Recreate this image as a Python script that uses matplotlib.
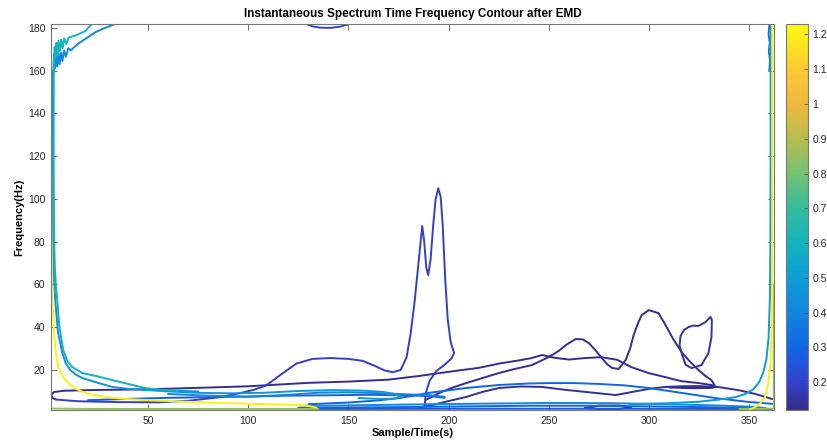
import numpy as np
import matplotlib
matplotlib.use("Agg")
import matplotlib.pyplot as plt
from matplotlib.colors import LinearSegmentedColormap, Normalize
from matplotlib.cm import ScalarMappable
from matplotlib.ticker import FormatStrFormatter

plt.rcParams['font.family'] = ['Liberation Sans', 'DejaVu Sans']

# rough parula look-alike (MATLAB default map)
parula_pts = [
    (0.00, (0.208, 0.166, 0.529)),
    (0.07, (0.200, 0.260, 0.800)),
    (0.16, (0.060, 0.400, 0.900)),
    (0.25, (0.070, 0.520, 0.870)),
    (0.34, (0.050, 0.620, 0.850)),
    (0.43, (0.080, 0.700, 0.750)),
    (0.52, (0.200, 0.740, 0.620)),
    (0.61, (0.450, 0.760, 0.450)),
    (0.70, (0.700, 0.740, 0.320)),
    (0.79, (0.930, 0.730, 0.240)),
    (0.88, (0.990, 0.780, 0.200)),
    (1.00, (0.976, 0.983, 0.054)),
]
parula = LinearSegmentedColormap.from_list("parula", parula_pts)
vmin, vmax = 0.12, 1.23
norm = Normalize(vmin, vmax)

# ---- contour lines (Sample, Hz) ----
left_olive_x = [1.1, 1.1, 1.2, 1.6, 20, 60, 100, 135]
left_olive_y = [181.8, 40, 4, 2.0, 1.8, 1.8, 1.8, 1.8]

left_yellow_x = [1.6, 1.6, 1.7, 1.9, 2.2, 3.0, 4.0, 5.2, 7.5, 10.2, 14.0, 18.7, 25.0,
                 32.1, 40.0, 48.5, 60.0, 73.4, 90.0, 110.0, 128.0, 134.0]
left_yellow_y = [181.8, 140, 100, 70, 52.7, 38, 28, 21.4, 17, 13.9, 11.2, 9.3, 8.0,
                 7.0, 6.4, 6.0, 5.5, 5.0, 4.5, 4.0, 3.6, 2.4]

left_teal_x = [3.0, 2.9, 3.0, 3.2, 3.5, 4.0, 4.7, 5.8, 7.7, 9.8, 12.2, 17.2, 25.0,
               32.1, 40.0, 48.5, 56.0, 65.0]
left_teal_y = [160, 130, 100, 80, 68, 60, 52.7, 40, 29.3, 24, 21.4, 18.6, 17.0,
               15.3, 13.5, 11.6, 10.8, 10.3]

left_cyan_x = [2.4, 2.3, 2.4, 2.6, 3.0, 3.7, 5.0, 7.2, 9.0, 11.2, 14.0, 17.2, 25.0,
               32.1, 40.0, 48.5, 60.0, 75.0]
left_cyan_y = [160, 130, 100, 80, 65, 52.7, 38, 28, 23, 20, 17.8, 16.3, 14.0,
               12.1, 11.2, 10.7, 10.4, 10.0]

top_teal_x = [3.0, 3.4, 3.8, 4.3, 4.8, 5.4, 6.0, 6.7, 7.4, 8.2, 9.2, 10.5, 14.0, 18.7, 22.0]
top_teal_y = [160, 171, 166, 173, 167, 174, 169, 174.5, 170.5, 175, 172.5, 175.5, 176.5,
              178.5, 181.8]

top_blue_x = [2.7, 3.1, 3.6, 4.2, 4.7, 5.3, 5.9, 6.6, 7.3, 8.1, 9.0, 10.2, 11.5, 15.0,
              19.0, 23.6, 28.0, 33.6]
top_blue_y = [158, 168, 161, 167, 162, 168, 163, 168.5, 164.5, 169.5, 166.5, 170.5,
              169.5, 172.5, 175.0, 177.9, 179.8, 181.8]

top_arc_x = [129, 132, 136, 141, 146, 150.5]
top_arc_y = [181.8, 180.7, 180.1, 180.0, 180.6, 181.8]

peak_x = [4.0, 15, 35, 55, 70, 85, 96, 103, 109, 116, 124, 132, 141, 150, 157, 163, 168,
          172, 176, 179, 181, 183, 184.5, 186, 186.8, 187.8, 188.8, 189.8, 191, 192.3,
          193.5, 194.8, 196, 197, 198.3, 199.5, 201, 202.7, 201.5, 198, 193.8, 190.5,
          188.5, 188]
peak_y = [6.2, 5.4, 5.0, 4.9, 5.6, 7.2, 9.2, 10.8, 12.8, 17.7, 23, 25.2, 25.6, 25.2,
          24.3, 22, 19.8, 19, 20, 26, 37, 52, 66, 80, 87.3, 80, 68, 64.4, 72, 88, 100,
          105, 101, 88, 62, 44, 33, 28, 25.5, 22.5, 19.5, 15, 9, 2.7]

long_dark_x = [4.0, 2.2, 1.8, 3.0, 8.0, 20, 35, 50, 65, 80, 100, 115, 130, 150, 170, 185,
               195, 205, 215, 225, 235, 241, 246.5, 253, 260, 268, 276, 284, 291, 300,
               308, 316, 324.6, 331, 333.5, 331, 322, 310]
long_dark_y = [6.2, 7.0, 8.4, 9.7, 10.3, 10.6, 10.8, 11.0, 11.4, 11.8, 12.4, 13.2, 14.0,
               14.6, 15.5, 17.2, 18.5, 19.8, 21.0, 23.0, 24.5, 25.5, 27.0, 25.7, 24.9,
               25.6, 26.0, 24.8, 21.4, 18.5, 16.7, 14.8, 13.9, 13.0, 12.2, 11.6, 11.6, 11.8]

m_x = [188.5, 195.3, 202, 208.7, 217, 225.1, 233, 241.5, 250, 255, 258.5, 263.4, 267,
       269.9, 273, 276.4, 279, 281.4, 284.8, 288.3, 290.5, 292.3, 294.5, 296.3, 299.8,
       304.7, 308.2, 312, 316.2, 320.5, 324.6, 328, 331.1, 332.6, 329.6, 322, 316.2]
m_y = [6.0, 9.3, 11.8, 13.9, 16.3, 18.6, 20.5, 22.3, 26.1, 29.0, 31.7, 34.5, 34.3, 32.6,
       29.5, 25.6, 22.8, 21.0, 20.5, 24.7, 30.0, 36.4, 42, 45.7, 48.0, 46.6, 41.0, 34.5,
       28.4, 23.8, 20.0, 17.3, 15.3, 13.0, 11.6, 11.5, 11.6]

leaf_x = [316.5, 315.2, 315.7, 317.5, 319.7, 322, 324.6, 328.1, 330.6, 331.3, 331.1,
          329.6, 326.1, 321.2, 318.2, 316.5]
leaf_y = [27, 31.5, 36.0, 38.8, 40.1, 40.8, 40.6, 42.4, 44.8, 43.4, 35.4, 27.9, 22.3,
          20.9, 22.5, 27]

low_dark_x = [185, 191.8, 200, 208.7, 217, 225.1, 236, 246.5, 258.5, 270, 283.3, 291.3,
              300, 308.2, 316, 324.6, 335, 345, 353, 361.5]
low_dark_y = [2.5, 3.6, 5.5, 7.4, 9.8, 11.6, 12.3, 12.1, 10.7, 9.6, 8.3, 9.7, 11.2, 12.1,
              12.4, 12.5, 12.0, 10.5, 8.8, 6.4]

blue_hump_x = [130, 150, 165, 175.4, 190, 208.7, 225.1, 240, 250, 262, 274.9, 288, 299.8,
               316.2, 333, 349.5, 361.5]
blue_hump_y = [4.0, 4.8, 5.8, 6.9, 9.3, 11.6, 13.0, 13.7, 13.9, 13.9, 13.5, 12.8, 11.6,
               9.3, 6.9, 5.1, 4.2]

blue_mid_x = [20, 40, 60, 80, 100, 120, 140, 160, 175, 185, 192, 198]
blue_mid_y = [5.9, 6.5, 7.0, 7.3, 7.6, 8.0, 8.2, 8.4, 8.2, 8.0, 7.6, 7.0]

cyan_mid_x = [48.5, 60, 76, 92, 109, 125, 142, 156, 167, 173, 176, 173, 165, 155]
cyan_mid_y = [10.7, 10.0, 9.3, 9.1, 9.4, 10.2, 10.6, 10.4, 9.8, 8.8, 7.6, 6.6, 6.5, 6.9]

sky_mid_x = [60, 80, 100, 120, 135, 150, 165, 180, 190, 198]
sky_mid_y = [8.8, 8.0, 7.5, 8.4, 9.4, 9.6, 9.2, 8.6, 8.3, 7.5]

bottom0_x = [130, 200, 270, 340, 361]
bottom0_y = [1.8, 1.9, 1.9, 1.8, 1.8]
bottom1_x = [125, 150, 180, 210, 240, 270, 300, 330, 350, 358]
bottom1_y = [2.4, 2.5, 2.7, 3.0, 3.3, 3.3, 3.0, 2.6, 2.3, 2.0]
bottom2_x = [130, 160, 190, 220, 250, 280, 310, 335, 352, 358]
bottom2_y = [3.2, 3.6, 4.0, 4.3, 4.6, 4.5, 4.0, 3.4, 2.8, 2.2]

blob_x = [268, 275, 285, 291, 285, 275, 268]
blob_y = [2.2, 3.4, 3.4, 2.6, 1.8, 1.8, 2.2]

right_cyan_x = [360.6, 360.6, 360.5, 360.3, 359.6, 358.5, 357.0, 355.0, 352.0, 348.0,
                343.0, 335.0, 325.0, 310.0, 290.0]
right_cyan_y = [181.8, 120, 80, 55, 35, 25, 19, 14.5, 11, 8.8, 7.3, 6.2, 5.2, 4.5, 4.0]

right_yellow_x = [361.5, 361.5, 361.4, 361.1, 360.5, 359.4, 357.9, 355.5, 353.0, 350.0]
right_yellow_y = [181.8, 100, 55, 35, 22, 13.9, 7.4, 4.5, 2.7, 1.5]

right_top_x = [360.0, 359.6, 360.2, 359.7, 360.3, 360.0]
right_top_y = [181.8, 177, 173, 169, 165, 160]

right_olive_x = [362.2, 362.2, 356, 345]
right_olive_y = [60, 2.0, 1.8, 1.8]

curves = [
    (long_dark_x, long_dark_y, 0.13),
    (m_x, m_y, 0.13),
    (low_dark_x, low_dark_y, 0.14),
    (blob_x, blob_y, 0.15),
    (leaf_x, leaf_y, 0.15),
    (peak_x, peak_y, 0.19),
    (top_arc_x, top_arc_y, 0.2),
    (bottom0_x, bottom0_y, 0.25),
    (blue_mid_x, blue_mid_y, 0.28),
    (blue_hump_x, blue_hump_y, 0.3),
    (bottom1_x, bottom1_y, 0.3),
    (right_top_x, right_top_y, 0.35),
    (sky_mid_x, sky_mid_y, 0.4),
    (top_blue_x, top_blue_y, 0.42),
    (bottom2_x, bottom2_y, 0.42),
    (left_cyan_x, left_cyan_y, 0.45),
    (cyan_mid_x, cyan_mid_y, 0.47),
    (right_cyan_x, right_cyan_y, 0.48),
    (left_teal_x, left_teal_y, 0.58),
    (top_teal_x, top_teal_y, 0.6),
    (left_olive_x, left_olive_y, 0.85),
    (right_olive_x, right_olive_y, 0.85),
    (left_yellow_x, left_yellow_y, 1.2),
    (right_yellow_x, right_yellow_y, 1.2),
]

fig = plt.figure(figsize=(8.27, 4.48), dpi=100)
ax = fig.add_axes([0.0617, 0.0848, 0.8742, 0.8616])
cax = fig.add_axes([0.9504, 0.0848, 0.0266, 0.8616])

for xs, ys, lev in curves:
    ax.plot(xs, ys, color=parula(norm(lev)), lw=1.4,
            solid_joinstyle='round', solid_capstyle='round')

ax.set_xlim(1.6, 362.3)
ax.set_ylim(1.3, 181.8)
ax.set_xticks([50, 100, 150, 200, 250, 300, 350])
ax.set_yticks([20, 40, 60, 80, 100, 120, 140, 160, 180])

grey = '#262626'
for s in ax.spines.values():
    s.set_color('#777777')
    s.set_linewidth(0.8)
ax.tick_params(direction='in', length=4, width=0.6, color='#555555',
               top=True, right=True, labelsize=7.5, labelcolor=grey, pad=4)

ax.set_title('Instantaneous Spectrum Time Frequency Contour after EMD',
             fontsize=8.5, fontweight='bold', pad=5)
ax.set_xlabel('Sample/Time(s)', fontsize=8, fontweight='bold', labelpad=2)
ax.set_ylabel('Frequency(Hz)', fontsize=8, fontweight='bold', labelpad=3)

sm = ScalarMappable(norm=norm, cmap=parula)
cb = fig.colorbar(sm, cax=cax)
cb.set_ticks([0.2, 0.3, 0.4, 0.5, 0.6, 0.7, 0.8, 0.9, 1.0, 1.1, 1.2])
cb.ax.yaxis.set_major_formatter(FormatStrFormatter('%g'))
cb.outline.set_edgecolor('#777777')
cb.outline.set_linewidth(0.8)
cb.ax.tick_params(direction='in', length=3, width=0.6, color='#555555',
                  labelsize=7.5, labelcolor=grey, pad=3)

fig.savefig('out.png', dpi=100)
